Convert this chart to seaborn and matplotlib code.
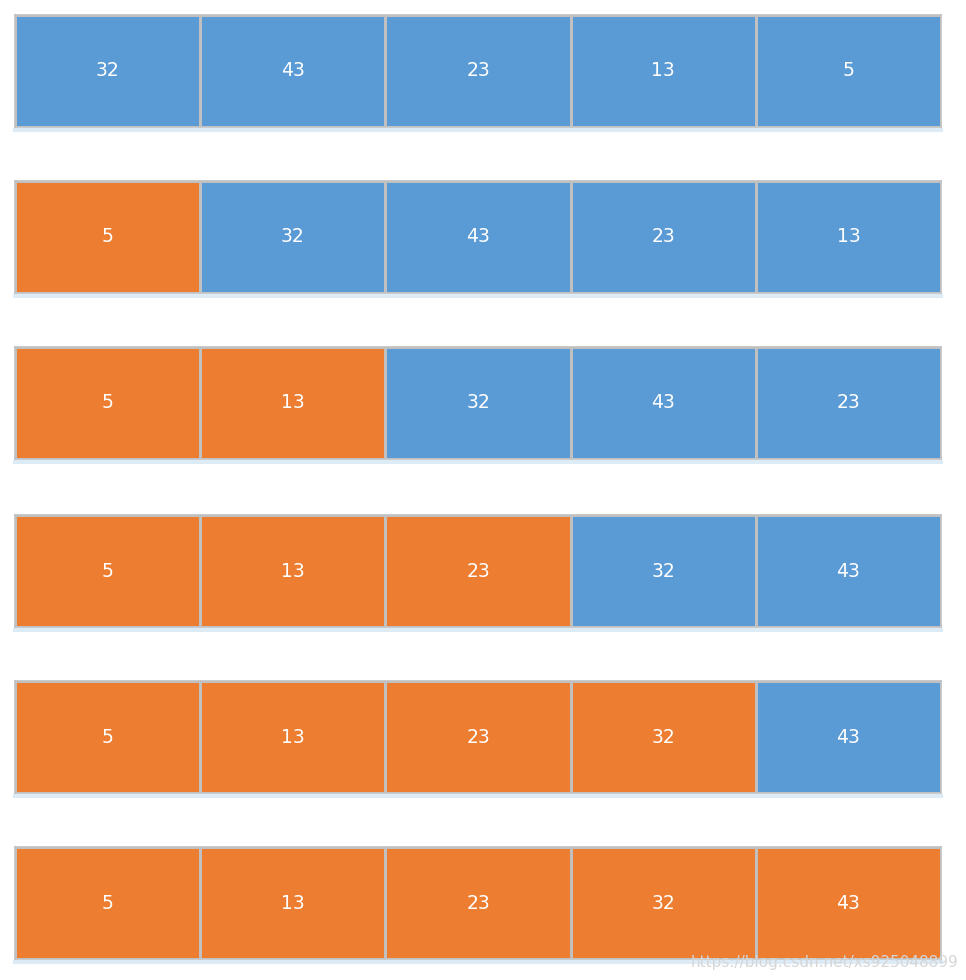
import numpy as np
import matplotlib.pyplot as plt
import seaborn as sns
from matplotlib.colors import ListedColormap

# each pass of selection sort
passes = [
    [32, 43, 23, 13, 5],
    [5, 32, 43, 23, 13],
    [5, 13, 32, 43, 23],
    [5, 13, 23, 32, 43],
    [5, 13, 23, 32, 43],
    [5, 13, 23, 32, 43],
]
sorted_count = [0, 1, 2, 3, 4, 5]

blue = '#5B9BD5'
orange = '#ED7D31'
cmap = ListedColormap([blue, orange])

W, H = 966, 980
fig = plt.figure(figsize=(W / 100, H / 100), dpi=100)

row_tops = [15, 181, 347, 515, 681, 847]
left, right, row_h = 15, 941, 112

for vals, n_sorted, top in zip(passes, sorted_count, row_tops):
    ax = fig.add_axes([left / W, 1 - (top + row_h) / H, (right - left) / W, row_h / H])
    state = np.array([[1 if i < n_sorted else 0 for i in range(len(vals))]])
    sns.heatmap(state, ax=ax, cmap=cmap, vmin=0, vmax=1, cbar=False,
                annot=np.array([vals]), fmt='d',
                annot_kws={'color': 'white', 'fontsize': 13.5},
                linewidths=1.0, linecolor='#C0C0C0',
                xticklabels=False, yticklabels=False)
    for s in ax.spines.values():
        s.set_visible(True)
        s.set_color('#C0C0C0')
        s.set_linewidth(1.2)
    # faint shadow under each row
    fig.add_artist(plt.Line2D([left / W, right / W],
                              [1 - (top + row_h + 3) / H] * 2,
                              color='#DDEBF7', lw=3))

fig.text(958 / W, 1 - 962 / H, 'https://blog.csdn.net/xs925048899',
         ha='right', va='center', color='#D6D6D6', fontsize=11)

fig.savefig('out.png', dpi=100)
